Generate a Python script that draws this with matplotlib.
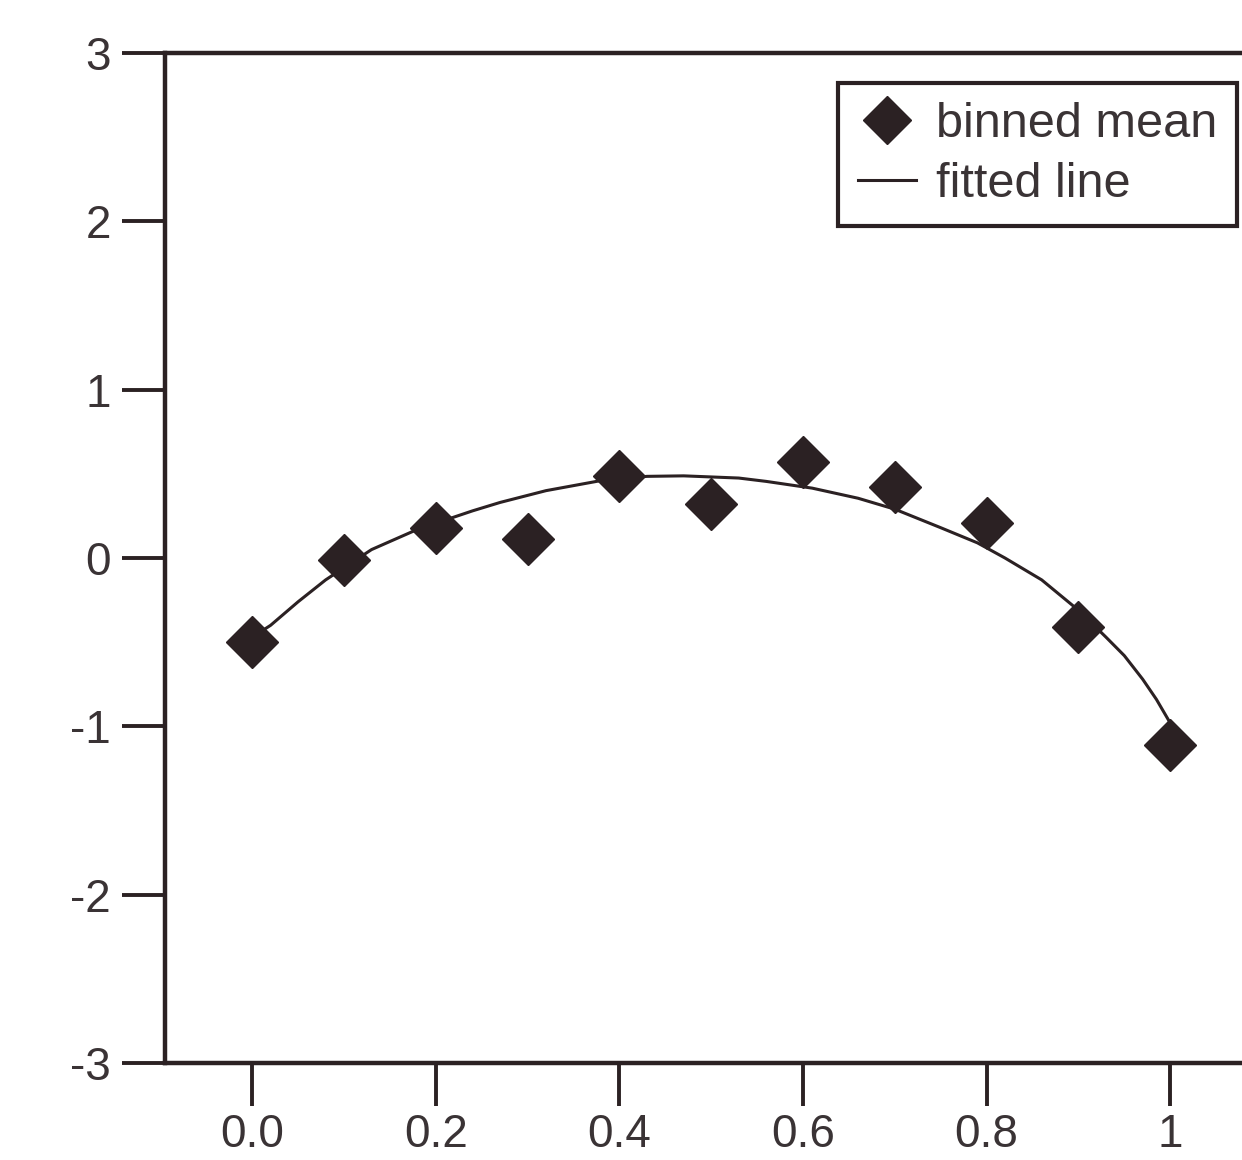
import matplotlib
matplotlib.use("Agg")
import matplotlib.pyplot as plt
from matplotlib.ticker import FixedLocator, FixedFormatter

plt.rcParams['font.family'] = ['Liberation Sans', 'DejaVu Sans']

# binned means
bin_x = [0.0, 0.1, 0.2, 0.3, 0.4, 0.5, 0.6, 0.7, 0.8, 0.9, 1.0]
bin_y = [-0.50, -0.01, 0.18, 0.11, 0.49, 0.32, 0.57, 0.42, 0.21, -0.41, -1.11]

# fitted line
fit_x = [0.0, 0.02, 0.05, 0.08, 0.13, 0.18, 0.24, 0.27, 0.32, 0.38, 0.43, 0.47,
         0.53, 0.56, 0.61, 0.66, 0.70, 0.75, 0.79, 0.82, 0.86, 0.90, 0.93,
         0.95, 0.97, 0.985, 1.0]
fit_y = [-0.47, -0.40, -0.26, -0.13, 0.05, 0.17, 0.28, 0.33, 0.40, 0.46, 0.485, 0.488,
         0.475, 0.455, 0.415, 0.355, 0.29, 0.18, 0.09, 0.0, -0.13, -0.31, -0.47,
         -0.58, -0.72, -0.84, -0.98]

xticks = [0.0, 0.2, 0.4, 0.6, 0.8, 1.0]
xtick_labels = ["0.0", "0.2", "0.4", "0.6", "0.8", "1"]
yticks = [-3, -2, -1, 0, 1, 2, 3]
ytick_labels = ["-3", "-2", "-1", "0", "1", "2", "3"]

ink = '#2b2123'
W, H = 1242, 1160
fig = plt.figure(figsize=(W / 100, H / 100), dpi=100)
left_px, right_px = 165, 1262
top_px, bottom_px = 53, 1063
ax = fig.add_axes([left_px / W, 1 - bottom_px / H,
                   (right_px - left_px) / W, (bottom_px - top_px) / H])

ax.plot(fit_x, fit_y, color=ink, lw=2.2, label='fitted line', zorder=2,
        solid_joinstyle='round')
ax.plot(bin_x, bin_y, linestyle='none', marker='D', ms=26, color=ink,
        mec=ink, label='binned mean', zorder=3)

ax.set_xlim(-0.095, 1.1)
ax.set_ylim(-3, 3)
ax.xaxis.set_major_locator(FixedLocator(xticks))
ax.xaxis.set_major_formatter(FixedFormatter(xtick_labels))
ax.yaxis.set_major_locator(FixedLocator(yticks))
ax.yaxis.set_major_formatter(FixedFormatter(ytick_labels))

for s in ax.spines.values():
    s.set_linewidth(3.2)
    s.set_color(ink)

ax.tick_params(axis='both', direction='out', length=31, width=2.8,
               color=ink, labelcolor='#3a3335', labelsize=33)
ax.tick_params(axis='y', pad=8)
ax.tick_params(axis='x', pad=5)

handles, labels = ax.get_legend_handles_labels()
order = [1, 0]
leg = ax.legend([handles[i] for i in order], [labels[i] for i in order],
                loc='upper right', bbox_to_anchor=(1237 / W, 1 - 83 / H),
                bbox_transform=fig.transFigure, fontsize=35,
                frameon=True, fancybox=False, edgecolor=ink, framealpha=1,
                handlelength=1.2, handletextpad=0.42, borderpad=0.4,
                labelspacing=0.3, borderaxespad=0, markerscale=0.95)
leg.get_frame().set_linewidth(3.0)
for t in leg.get_texts():
    t.set_color('#3a3335')

fig.savefig('out.png', dpi=100)
